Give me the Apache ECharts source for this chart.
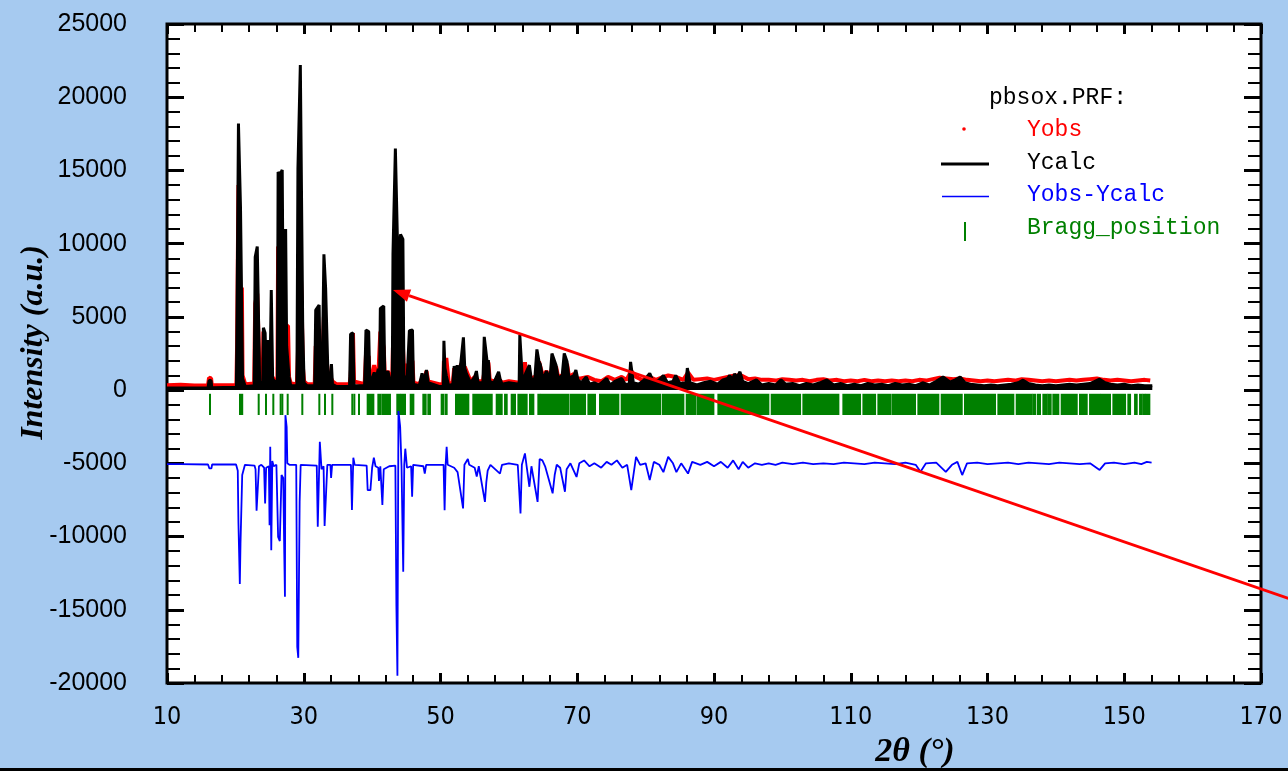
<!DOCTYPE html>
<html>
<head>
<meta charset="utf-8">
<script src="https://cdn.jsdelivr.net/npm/echarts@6.0.0/dist/echarts.min.js"></script>
<style>
  html, body { margin: 0; padding: 0; background: #a6caf0; }
  #chart { width: 1288px; height: 771px; }
</style>
</head>
<body>
<div id="chart"></div>
<script>
// axis ranges / ticks
const xRange = [10, 170];
const yRange = [-20000, 25000];

// Ycalc, [2theta, intensity]
const ycalc = [
  [10, 150], [16.0, 160], [16.15, 650], [16.45, 650], [16.55, 160],
  [20.15, 200], [20.25, 5260], [20.45, 18200], [20.6, 18200], [20.75, 12450], [20.95, 12450], [21.05, 800], [21.3, 700], [21.45, 250],
  [22.75, 300], [22.9, 9080], [23.2, 9800], [23.4, 9800], [23.55, 600], [23.8, 700], [24.0, 300],
  [24.1, 4260], [24.35, 3900], [24.55, 600], [24.8, 3420], [25.05, 500], [25.25, 6830], [25.45, 800], [25.7, 600],
  [26.15, 600], [26.25, 14900], [26.5, 14700], [26.85, 15030], [27.0, 4760], [27.35, 11000], [27.5, 3000], [27.7, 2960], [27.85, 900], [28.1, 300],
  [29.0, 300], [29.15, 15150], [29.4, 15150], [29.5, 22200], [29.7, 22200], [29.85, 4240], [30.05, 500], [30.5, 300],
  [31.6, 300], [31.75, 5460], [32.0, 5460], [32.25, 5810], [32.4, 1000], [32.7, 1000], [32.95, 9270], [33.2, 6950], [33.4, 6950], [33.55, 900],
  [33.9, 800], [34.05, 1780], [34.2, 400], [34.8, 250],
  [36.7, 250], [36.85, 3830], [37.2, 3900], [37.35, 300], [38.9, 300], [39.1, 4100], [39.5, 4000], [39.65, 700], [40.0, 800], [40.3, 1200],
  [40.6, 800], [40.9, 1450], [41.1, 1000], [41.2, 5570], [41.7, 5740], [41.85, 900], [42.3, 1300], [42.6, 700], [42.95, 700],
  [43.05, 9270], [43.3, 9270], [43.4, 16500], [43.6, 16500], [43.8, 8090], [44.05, 8090], [44.15, 10630], [44.5, 10300], [44.65, 1000],
  [45.1, 600], [45.45, 4060], [45.9, 4100], [46.05, 400], [46.9, 300], [47.3, 1150], [47.6, 600], [47.95, 1370], [48.2, 500], [49.8, 250],
  [50.4, 250], [50.5, 3370], [50.65, 1500], [50.85, 1000], [51.2, 300], [51.8, 400], [52.0, 1640], [52.3, 800], [52.45, 1700], [52.7, 900],
  [53.0, 2000], [53.35, 3600], [53.55, 1500], [53.8, 1100], [54.4, 500], [55.0, 900], [55.25, 1300], [55.5, 500], [56.2, 500],
  [56.4, 3640], [56.6, 3640], [56.85, 1800], [57.0, 2050], [57.2, 600], [57.8, 500], [58.5, 1250], [58.7, 800], [59.0, 400], [60.0, 500],
  [61.5, 400], [61.6, 3760], [61.85, 3760], [62.0, 500], [62.5, 1200], [63.0, 1700], [63.3, 700], [63.8, 800], [64.1, 2780], [64.4, 1950],
  [64.6, 1750], [65.0, 700], [65.5, 1300], [66.0, 700], [66.3, 2500], [66.55, 2500], [66.9, 1700], [67.2, 800], [67.8, 1000], [68.1, 2500],
  [68.3, 2500], [68.5, 1950], [68.8, 800], [69.5, 1000], [69.8, 1370], [70.1, 700], [70.6, 500], [71.3, 900], [71.8, 400], [72.5, 500],
  [73.2, 350], [74.3, 800], [74.8, 350], [75.5, 600], [76.5, 800], [77.0, 400], [77.6, 400], [77.8, 1930], [78.0, 1930], [78.2, 500],
  [79.0, 400], [79.8, 700], [80.6, 1140], [81.2, 500], [82.0, 700], [82.6, 1000], [83.2, 500], [84.0, 600], [84.4, 1000], [85.0, 450],
  [85.9, 500], [86.1, 1500], [86.3, 1500], [86.5, 500], [87.5, 350], [88.5, 500], [89.5, 600], [90.5, 400], [91.3, 700], [92.0, 800],
  [92.3, 1000], [92.7, 700], [93.0, 1100], [93.4, 900], [93.8, 1250], [94.2, 600], [95.0, 450], [96.2, 700], [97.0, 350], [98.0, 450],
  [99.0, 350], [99.8, 700], [100.5, 400], [101.5, 450], [102.5, 300], [103.5, 450], [104.5, 350], [105.5, 500], [106.5, 700], [107.5, 350],
  [108.5, 450], [109.5, 300], [110.5, 400], [111.5, 300], [112.5, 450], [113.5, 350], [114.5, 400], [115.5, 300], [116.5, 450], [117.5, 350],
  [118.5, 400], [119.5, 300], [120.5, 500], [121.5, 350], [122.5, 600], [123.5, 900], [124.5, 550], [125.3, 700], [126.0, 900], [126.7, 500],
  [127.5, 400], [128.5, 350], [129.5, 300], [130.5, 350], [131.5, 300], [132.5, 350], [133.5, 400], [134.5, 500], [135.2, 680], [136.0, 450],
  [137.0, 350], [138.0, 300], [139.0, 350], [140.0, 300], [141.0, 350], [142.0, 400], [143.0, 350], [144.0, 400], [145.0, 450], [146.4, 750],
  [147.2, 500], [148.0, 400], [149.0, 350], [150.0, 400], [151.0, 300], [152.0, 350], [153.0, 300], [154.1, 300]
];

// Yobs, [2theta, intensity]
const yobs = [
  [10, 330], [12, 360], [14, 320], [16.0, 340], [16.15, 850], [16.45, 800], [16.55, 340], [18, 330], [20.15, 350],
  [20.25, 3000], [20.45, 14000], [20.6, 12000], [20.75, 4300], [20.95, 7000], [21.05, 1000], [21.3, 900], [21.45, 400],
  [22.75, 450], [22.9, 5900], [23.2, 6600], [23.4, 6600], [23.55, 700], [23.8, 800], [24.0, 450],
  [24.1, 4000], [24.35, 1200], [24.55, 700], [24.8, 3300], [25.05, 500], [25.25, 1000], [25.45, 900], [25.7, 700],
  [26.15, 700], [26.25, 9800], [26.5, 9500], [26.85, 9800], [27.0, 3800], [27.35, 4400], [27.5, 4400], [27.7, 4400], [27.85, 900], [28.1, 450],
  [29.0, 400], [29.15, 2500], [29.4, 2500], [29.5, 9000], [29.7, 6000], [29.85, 1700], [30.05, 600], [30.5, 400],
  [31.6, 400], [31.75, 3000], [32.0, 3000], [32.25, 3000], [32.4, 1500], [32.7, 1100], [32.95, 5000], [33.2, 2800], [33.4, 2800], [33.55, 1000],
  [33.9, 900], [34.05, 900], [34.2, 600], [34.8, 400],
  [36.7, 400], [36.85, 900], [37.2, 3900], [37.35, 600], [38.9, 400], [39.1, 2400], [39.5, 2300], [39.65, 800], [40.0, 900], [40.3, 1700],
  [40.6, 900], [40.9, 900], [41.1, 1000], [41.2, 4000], [41.7, 2900], [41.85, 1000], [42.3, 1300], [42.6, 800], [42.95, 800],
  [43.05, 3000], [43.3, 3000], [43.4, 2000], [43.6, 2000], [43.8, 8400], [44.05, 8500], [44.15, 8000], [44.5, 3000], [44.65, 1500],
  [44.85, 1800], [45.1, 700], [45.45, 2000], [45.9, 2000], [46.05, 500], [46.9, 400], [47.3, 800], [47.6, 700], [47.95, 1300], [48.2, 600], [49.8, 400],
  [50.4, 400], [50.5, 2000], [50.65, 1500], [50.85, 2200], [51.2, 450], [51.8, 500], [52.0, 1500], [52.3, 900], [52.45, 1300], [52.7, 1000],
  [53.0, 1800], [53.35, 700], [53.55, 1600], [53.8, 1500], [54.4, 600], [55.0, 900], [55.25, 800], [55.5, 600], [56.2, 600],
  [56.4, 1200], [56.6, 1200], [56.85, 800], [57.0, 1900], [57.2, 700], [57.8, 600], [58.5, 800], [58.7, 900], [59.0, 500], [60.0, 600],
  [61.5, 500], [61.6, 600], [61.85, 500], [62.0, 600], [62.35, 1900], [62.5, 1300], [63.0, 900], [63.3, 800], [63.8, 900], [64.1, 600],
  [64.4, 1950], [64.6, 2000], [65.0, 900], [65.5, 1300], [66.0, 800], [66.3, 700], [66.55, 1500], [66.9, 1600], [67.2, 900], [67.8, 1000],
  [68.1, 700], [68.3, 1200], [68.5, 1800], [68.8, 900], [69.5, 1100], [69.8, 500], [70.1, 800],
  [70.5, 800], [71.5, 900], [72.5, 700], [73.5, 600], [74.5, 900], [75.5, 700], [76.5, 900], [77.2, 700], [77.9, 1300], [78.6, 900],
  [79.5, 700], [80.6, 900], [81.5, 700], [82.6, 900], [83.3, 1000], [84.4, 900], [85.5, 700], [86.2, 1200], [87.0, 700], [88.0, 750],
  [89.0, 800], [90.0, 700], [91.0, 800], [92.0, 900], [93.0, 1000], [94.0, 1000], [95.0, 750], [96.0, 800], [97.0, 700], [98.0, 700],
  [99.0, 650], [100.0, 750], [101.0, 700], [102.0, 650], [103.0, 700], [104.0, 600], [105.0, 700], [106.0, 750], [107.0, 650], [108.0, 700],
  [109.0, 600], [110.0, 650], [111.0, 600], [112.0, 700], [113.0, 600], [114.0, 650], [115.0, 600], [116.0, 650], [117.0, 600], [118.0, 650],
  [119.0, 600], [120.0, 700], [121.0, 650], [122.0, 750], [123.0, 850], [124.0, 800], [125.0, 750], [126.0, 800], [127.0, 700], [128.0, 650],
  [129.0, 600], [130.0, 650], [131.0, 600], [132.0, 650], [133.0, 700], [134.0, 650], [135.0, 750], [136.0, 700], [137.0, 650], [138.0, 600],
  [139.0, 650], [140.0, 600], [141.0, 650], [142.0, 700], [143.0, 650], [144.0, 700], [145.0, 750], [146.0, 800], [147.0, 700], [148.0, 650],
  [149.0, 700], [150.0, 650], [151.0, 600], [152.0, 650], [153.0, 700], [153.8, 650]
];

// Yobs-Ycalc (drawn with its offset), [2theta, intensity]
const ydiff = [
  [10, -5050], [12, -5060], [16.0, -5080], [16.2, -5350], [16.5, -5350], [16.6, -5080], [20.1, -5080], [20.35, -5500], [20.45, -9100],
  [20.55, -9100], [20.65, -13240], [20.75, -10500], [20.9, -10500], [21.0, -5800], [21.2, -5700], [21.4, -5100], [22.8, -5150], [22.95, -5400],
  [23.1, -8240], [23.3, -8240], [23.45, -5200], [23.8, -5100], [24.2, -5300], [24.35, -7740], [24.5, -5300], [24.9, -5200], [25.0, -9220],
  [25.1, -3870], [25.25, -10930], [25.4, -4840], [25.6, -5200], [26.0, -5100], [26.25, -10020], [26.5, -10310], [26.75, -5800], [27.0, -6000],
  [27.15, -11150], [27.25, -14110], [27.32, -1710], [27.5, -2500], [27.6, -5000], [27.9, -5100], [28.9, -5100], [29.05, -17530], [29.2, -18280],
  [29.4, -7630], [29.55, -5100], [31.9, -5150], [32.05, -9330], [32.35, -3530], [32.6, -5400], [32.9, -5200], [33.05, -9270], [33.3, -9270],
  [33.45, -5100], [33.9, -5100], [34.0, -6000], [34.15, -5100], [36.9, -5100], [37.05, -8190], [37.25, -4620], [37.45, -5100], [39.2, -5150],
  [39.35, -6830], [39.75, -6830], [40.0, -5300], [40.25, -4620], [40.5, -5200], [40.9, -5300], [41.0, -6200], [41.2, -5200], [41.5, -7850],
  [41.7, -5400], [42.5, -5200], [43.4, -5150], [43.55, -14750], [43.7, -19510], [43.85, -1430], [44.1, -2500], [44.3, -5200], [44.45, -9560],
  [44.55, -12400], [44.7, -5100], [44.85, -4000], [45.1, -5300], [45.7, -5200], [45.85, -7280], [46.0, -5100], [47.5, -5200], [47.7, -5700],
  [47.9, -5100], [50.45, -5100], [50.6, -8200], [50.75, -5100], [50.9, -3870], [51.05, -5100], [52.0, -5300], [52.5, -5600], [53.3, -8080],
  [53.5, -5100], [54.0, -4700], [54.2, -5100], [55.0, -5300], [55.3, -5900], [55.6, -5200], [56.5, -7630], [56.7, -6300], [56.9, -5500],
  [57.3, -5100], [58.7, -5700], [59.0, -5100], [60.0, -5000], [61.3, -5100], [61.7, -8420], [61.9, -5100], [62.35, -4320], [62.6, -5200],
  [63.0, -6600], [63.3, -5200], [64.2, -7630], [64.5, -4700], [64.9, -4800], [65.3, -5200], [66.4, -7050], [66.7, -5800], [67.0, -5100],
  [67.5, -5300], [68.2, -6940], [68.45, -5400], [69.0, -5000], [69.9, -5930], [70.3, -5000], [71.0, -4800], [71.8, -5200], [72.5, -5000],
  [73.5, -5300], [74.3, -4900], [75.0, -5100], [75.8, -4800], [76.6, -5300], [77.3, -5100], [77.9, -6830], [78.6, -4560], [79.2, -5100],
  [80.0, -5000], [80.6, -6140], [81.2, -4900], [82.0, -5100], [82.6, -5600], [83.3, -4560], [84.0, -5000], [84.5, -5600], [85.2, -5000],
  [86.2, -5700], [86.8, -4900], [88.0, -5100], [89.0, -4900], [90.0, -5200], [91.0, -4900], [92.0, -5300], [92.8, -4800], [93.6, -5400],
  [94.2, -4900], [95.0, -5300], [96.0, -5000], [97.0, -5100], [98.0, -5000], [99.0, -5100], [100.0, -4950], [101.5, -5050], [103.0, -4950],
  [104.5, -5050], [106.0, -5000], [107.5, -5050], [109.0, -4950], [110.5, -5000], [112.0, -5050], [113.5, -4950], [115.0, -5000],
  [116.5, -5050], [118.0, -4950], [119.5, -5100], [120.2, -5580], [121.0, -5000], [122.5, -4950], [123.9, -5580], [124.8, -5100],
  [125.6, -4900], [126.3, -5800], [127.0, -5000], [128.5, -4950], [130.0, -5050], [131.5, -5000], [133.0, -4950], [134.5, -5050],
  [136.0, -4950], [137.5, -5000], [139.0, -5050], [140.5, -4950], [142.0, -5000], [143.5, -5050], [145.0, -5000], [146.4, -5450],
  [147.2, -5000], [148.5, -4950], [150.0, -5050], [151.5, -4950], [152.5, -5050], [153.3, -4900], [154.0, -4950]
];

// Bragg reflections: [from, to] in 2theta (dense groups merge into blocks)
const braggGroups = [
  [16.29, 16.29], [20.68, 21.0], [23.41, 23.41], [24.48, 24.48], [25.55, 25.55], [26.62, 26.62], [26.87, 26.87], [27.65, 27.65],
  [29.79, 29.79], [32.28, 32.28], [33.11, 33.11], [34.18, 34.18], [37.10, 37.10], [37.40, 37.40], [38.08, 38.08], [39.35, 40.18],
  [40.91, 41.25], [41.54, 42.61], [43.68, 44.08], [44.32, 44.81], [45.64, 46.03], [47.49, 47.83], [48.22, 48.46], [50.17, 50.41],
  [50.75, 50.90], [52.27, 54.07], [54.8, 57.49], [58.22, 58.95], [59.44, 59.68], [60.41, 60.9], [61.39, 62.6], [63.09, 63.58],
  [64.31, 64.56], [64.8, 68.7], [69.04, 71.14], [71.63, 72.6], [73.33, 76.01], [76.5, 82.11], [82.5, 85.52], [86.01, 87.23],
  [87.57, 89.91], [90.64, 97.95], [98.44, 102.59], [103.07, 103.32], [103.56, 108.19], [108.92, 111.36], [111.85, 113.56],
  [114.04, 115.74], [116.08, 119.4], [119.89, 122.81], [123.3, 126.23], [126.71, 131.1], [131.59, 133.78], [134.27, 136.46],
  [136.71, 136.95], [137.34, 137.68], [138.17, 138.66], [138.9, 139.24], [139.63, 140.36], [140.85, 143.05], [143.53, 144.51],
  [145.0, 146.46], [146.7, 147.92], [148.41, 150.12], [150.6, 150.85], [151.58, 151.82], [152.31, 152.55], [152.8, 153.04], [153.28, 153.67]
];
const braggBand = [-250, -1700];

// arrow annotation: tail (off the right edge) -> tip, in data units
const arrowTail = [174.5, -14300];
const arrowTip = [43.05, 6830];

const chart = echarts.init(document.getElementById('chart'));

function xAxisCfg(pos, labels) {
  return {
    type: 'value', position: pos, min: xRange[0], max: xRange[1], interval: 20,
    axisLine: { show: false, onZero: false },
    axisTick: { show: true, inside: true, length: 10, lineStyle: { color: '#000', width: 3 } },
    minorTick: { show: true, splitNumber: 5, length: 8, lineStyle: { color: '#000', width: 2 } },
    splitLine: { show: false },
    axisLabel: labels ? { show: true, color: '#000', fontFamily: '"DejaVu Sans Condensed", sans-serif', fontSize: 25, margin: 22 } : { show: false }
  };
}
function yAxisCfg(pos, labels) {
  return {
    type: 'value', position: pos, min: yRange[0], max: yRange[1], interval: 5000,
    axisLine: { show: false, onZero: false },
    axisTick: { show: true, inside: true, length: 17, lineStyle: { color: '#000', width: 3 } },
    minorTick: { show: true, splitNumber: 5, length: 13, lineStyle: { color: '#000', width: 2 } },
    splitLine: { show: false },
    axisLabel: labels ? {
      show: true, color: '#000', fontFamily: '"Liberation Sans", sans-serif', fontSize: 25, margin: 40,
      formatter: function (v) { return String(v); }
    } : { show: false }
  };
}

const xBottom = xAxisCfg('bottom', true);
xBottom.name = '2\u03b8 (\u00b0)';
xBottom.nameLocation = 'middle';
xBottom.nameGap = 52;
xBottom.nameMoveOverlap = false;
xBottom.nameTextStyle = { fontFamily: '"Liberation Serif", serif', fontWeight: 'bold', fontStyle: 'italic', fontSize: 34, color: '#000', padding: [0, 0, 0, 402] };

const yLeft = yAxisCfg('left', true);
yLeft.name = 'Intensity (a.u.)';
yLeft.nameLocation = 'middle';
yLeft.nameGap = 117;
yLeft.nameMoveOverlap = false;
yLeft.nameTextStyle = { fontFamily: '"Liberation Serif", serif', fontWeight: 'bold', fontStyle: 'italic', fontSize: 32, color: '#000', padding: [0, 0, 0, 22] };

chart.setOption({
  animation: false,
  backgroundColor: '#a6caf0',
  grid: {
    left: 167, right: 27, top: 24, bottom: 88, outerBoundsMode: 'none',
    show: true, backgroundColor: '#fff', borderColor: '#000', borderWidth: 3
  },
  xAxis: [xBottom, xAxisCfg('top', false)],
  yAxis: [yLeft, yAxisCfg('right', false)],
  series: [
    {
      name: 'Yobs', type: 'line', data: yobs, symbol: 'none', z: 2,
      lineStyle: { color: '#ff0000', width: 4, join: 'bevel' }
    },
    {
      name: 'Ycalc', type: 'line', data: ycalc, symbol: 'none', z: 3,
      lineStyle: { color: '#000', width: 3, join: 'bevel' },
      // the calculated profile is drawn solid down to zero, like the dense original trace
      areaStyle: { color: '#000', opacity: 1 }
    },
    {
      name: 'Yobs-Ycalc', type: 'line', data: ydiff, symbol: 'none', z: 3,
      lineStyle: { color: '#0000ff', width: 1.8, join: 'bevel' }
    },
    {
      name: 'Bragg_position', type: 'custom', data: braggGroups, z: 2,
      renderItem: function (params, api) {
        const p0 = api.coord([api.value(0), braggBand[0]]);
        const p1 = api.coord([api.value(1), braggBand[1]]);
        return {
          type: 'rect',
          shape: { x: p0[0] - 1, y: p0[1], width: Math.max(p1[0] - p0[0], 0) + 2, height: p1[1] - p0[1] },
          style: { fill: '#008000' }
        };
      }
    }
  ]
});

// arrow + legend overlay
const tip = chart.convertToPixel({ xAxisIndex: 0, yAxisIndex: 0 }, arrowTip);
const tail = chart.convertToPixel({ xAxisIndex: 0, yAxisIndex: 0 }, arrowTail);
const len = Math.hypot(tail[0] - tip[0], tail[1] - tip[1]);
const ux = (tail[0] - tip[0]) / len, uy = (tail[1] - tip[1]) / len;
const headLen = 17, headHalf = 6.5;
const bx = tip[0] + ux * headLen, by = tip[1] + uy * headLen;

const monoFont = '23px "Liberation Mono", "Courier New", monospace';
function legendText(id, text, x, y, color) {
  return { type: 'text', id: id, z: 20, style: { text: text, x: x, y: y, fill: color, font: monoFont, verticalAlign: 'middle' } };
}

chart.setOption({
  graphic: [
    { type: 'rect', id: 'baseLine', z: 30, shape: { x: 0, y: 768, width: 1288, height: 3 }, style: { fill: '#000' } },
    legendText('hdr', 'pbsox.PRF:', 989, 98, '#000'),
    { type: 'circle', id: 'obsDot', z: 20, shape: { cx: 964, cy: 129, r: 1.8 }, style: { fill: '#ff0000' } },
    legendText('t1', 'Yobs', 1027, 130, '#ff0000'),
    { type: 'line', id: 'calcLn', z: 20, shape: { x1: 941, y1: 164, x2: 989, y2: 164 }, style: { stroke: '#000', lineWidth: 3 } },
    legendText('t2', 'Ycalc', 1027, 163, '#000'),
    { type: 'line', id: 'diffLn', z: 20, shape: { x1: 942, y1: 196.5, x2: 989, y2: 196.5 }, style: { stroke: '#0000ff', lineWidth: 1.5 } },
    legendText('t3', 'Yobs-Ycalc', 1027, 195, '#0000ff'),
    { type: 'line', id: 'braggTk', z: 20, shape: { x1: 965, y1: 222, x2: 965, y2: 241 }, style: { stroke: '#008000', lineWidth: 2 } },
    legendText('t4', 'Bragg_position', 1027, 228, '#008000'),
    { type: 'line', id: 'arrowLn', z: 40, shape: { x1: bx, y1: by, x2: tail[0], y2: tail[1] }, style: { stroke: '#ff0000', lineWidth: 3 } },
    {
      type: 'polygon', id: 'arrowHd', z: 40,
      shape: { points: [[tip[0], tip[1]], [bx - uy * headHalf, by + ux * headHalf], [bx + uy * headHalf, by - ux * headHalf]] },
      style: { fill: '#ff0000' }
    }
  ]
});
</script>
</body>
</html>
